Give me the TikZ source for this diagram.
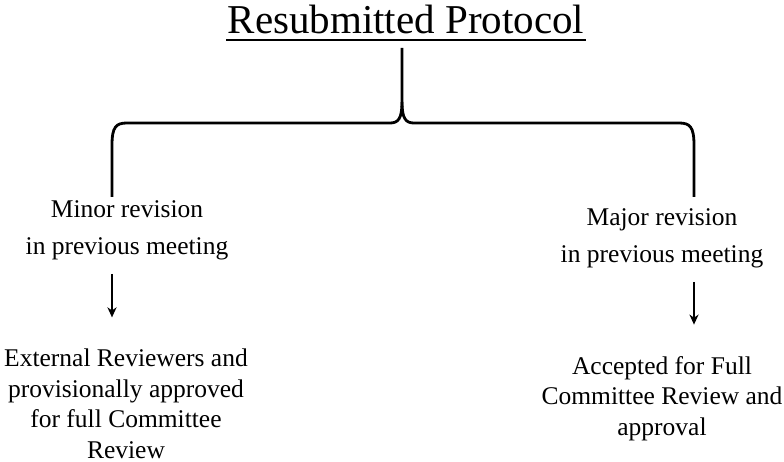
\documentclass[tikz,border=0pt]{standalone}
\usepackage{fontspec}
\setmainfont{Liberation Serif}
\usetikzlibrary{arrows.meta}
\tikzset{every path/.style={black,line width=2.8pt}, every node/.style={inner sep=0pt, align=center, anchor=base},
  headline/.style={font=\fontsize{41}{45}\selectfont},
  revision/.style={font=\fontsize{25.5}{37}\selectfont},
  outcome/.style={font=\fontsize{25.5}{30.5}\selectfont},
  downarrow/.style={line width=2pt, -{Stealth[length=10pt,width=9pt,inset=3pt]}, shorten <=12pt, shorten >=30pt}}

\begin{document}
\begin{tikzpicture}[x=1pt,y=-1pt]
       \useasboundingbox (0,0) rectangle (784,462);
       \begin{scope}
        \node[headline] (title) at (406,34) {Resubmitted Protocol};
        \draw[line width=1.6pt] ([yshift=-6pt]title.base west) -- ([yshift=-6pt]title.base east);
       \end{scope}
       \begin{scope}
        \coordinate (top) at (402,48);
        \coordinate (cusp) at (402,102);
        \coordinate (lend) at (112,197);
        \coordinate (rend) at (694,197);
        \draw (lend) -- (112,145)
         .. controls (112,127) and (116,123) .. (127,123) -- (390,123)
         .. controls (398,123) and (402,119) .. (cusp) -- (top);
        \draw (cusp)
         .. controls (402,119) and (406,123) .. (414,123) -- (679,123)
         .. controls (690,123) and (694,127) .. (694,145) -- (rend);
       \end{scope}
       \begin{scope}
        \node[revision] (minor) at (127,255) {Minor revision\\in previous meeting};
        \node[outcome] (external) at (126,458) {External Reviewers and\\provisionally approved\\for full Committee\\Review};
        \draw[downarrow] (minor.south -| lend) -- (external.north -| lend);
       \end{scope}
       \begin{scope}
        \node[revision] (major) at (662,263) {Major revision\\in previous meeting};
        \node[outcome] (accepted) at (662,435) {Accepted for Full\\Committee Review and\\approval};
        \draw[downarrow] (major.south -| rend) -- (accepted.north -| rend);
       \end{scope}
      \end{tikzpicture}
\end{document}
